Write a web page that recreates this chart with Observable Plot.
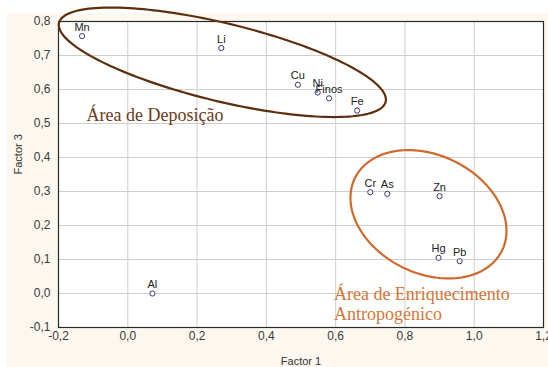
<!DOCTYPE html>
<html>
<head>
<meta charset="utf-8">
<script src="https://cdn.jsdelivr.net/npm/d3@7"></script>
<script src="https://cdn.jsdelivr.net/npm/@observablehq/plot@0.6"></script>
<style>
  html, body { margin: 0; padding: 0; background: #ffffff; }
  #wrap { position: relative; width: 548px; height: 367px; overflow: hidden; }
  #cream { position: absolute; left: 7px; top: 13px; right: 0; bottom: 0; background: #fcf8ef; }
  #chart { position: absolute; left: 0; top: 0; }
</style>
</head>
<body>
<div id="wrap"><div id="cream"></div><div id="chart"></div></div>
<script>
// Data
const elements = ["Mn", "Li", "Cu", "Ni", "Finos", "Fe", "Cr", "As", "Zn", "Hg", "Pb", "Al"];
const factor1  = [-0.132, 0.270, 0.491, 0.548, 0.581, 0.662, 0.700, 0.749, 0.900, 0.897, 0.958, 0.071];
const factor3  = [ 0.757, 0.722, 0.614, 0.591, 0.574, 0.538, 0.298, 0.293, 0.286, 0.105, 0.095, 0.000];
const xTicks = [-0.2, 0.0, 0.2, 0.4, 0.6, 0.8, 1.0, 1.2];
const yTicks = [-0.1, 0.0, 0.1, 0.2, 0.3, 0.4, 0.5, 0.6, 0.7, 0.8];
const groupNames = ["Área de Deposição", "Área de Enriquecimento", "Antropogénico"];

const points = elements.map((e, i) => ({name: e, x: factor1[i], y: factor3[i]}));

const W = 548, H = 367, mL = 58, mR = 5, mT = 21, mB = 40;
const xDom = [-0.2, 1.2], yDom = [-0.1, 0.8];
const kx = (xDom[1] - xDom[0]) / (W - mL - mR);
const ky = (yDom[1] - yDom[0]) / (H - mT - mB);

// Annotation ellipse outline (center in data units, semi-axes in px, tilt in degrees)
function ellipse(cx, cy, a, b, deg) {
  const phi = deg * Math.PI / 180, pts = [];
  for (let i = 0; i <= 180; i++) {
    const t = i / 180 * 2 * Math.PI;
    const px = a * Math.cos(t) * Math.cos(phi) - b * Math.sin(t) * Math.sin(phi);
    const py = a * Math.cos(t) * Math.sin(phi) + b * Math.sin(t) * Math.cos(phi);
    pts.push({x: cx + px * kx, y: cy - py * ky});
  }
  return pts;
}
const depo = ellipse(0.273, 0.680, 168, 39, 13.6);
const enri = ellipse(0.868, 0.233, 82, 59, 26.3);

const fmt = d => d.toFixed(1).replace(".", ",");
const brown = "#5e2f0e", orange = "#d0692c";

const plot = Plot.plot({
  width: W, height: H,
  marginLeft: mL, marginRight: mR, marginTop: mT, marginBottom: mB,
  style: {background: "transparent", fontFamily: "'Liberation Sans', Arial, sans-serif", fontSize: "12px", overflow: "visible"},
  x: {domain: xDom},
  y: {domain: yDom},
  marks: [
    Plot.frame({fill: "white", stroke: null}),
    Plot.gridX(xTicks, {stroke: "#cfcfcf", strokeOpacity: 1}),
    Plot.gridY(yTicks, {stroke: "#cfcfcf", strokeOpacity: 1}),
    Plot.frame({stroke: "#2a2a2a", strokeWidth: 1.2}),
    Plot.axisX(xTicks, {tickFormat: fmt, tickSize: 0, tickPadding: 4, label: null, fill: "#3a3a3a"}),
    Plot.axisY(yTicks, {tickFormat: fmt, tickSize: 0, tickPadding: 8, label: null, fill: "#3a3a3a"}),
    Plot.text(["Factor 1"], {frameAnchor: "bottom", dy: 34, fontSize: 11, fill: "#333", lineAnchor: "middle"}),
    Plot.text(["Factor 3"], {frameAnchor: "left", dx: -40, rotate: -90, fontSize: 11, fill: "#333"}),
    Plot.line(depo, {x: "x", y: "y", stroke: brown, strokeWidth: 2.2, clip: false}),
    Plot.line(enri, {x: "x", y: "y", stroke: orange, strokeWidth: 2.2, clip: false}),
    Plot.dot(points, {x: "x", y: "y", r: 2.6, stroke: "#3a3a78", strokeWidth: 1, fill: "white"}),
    Plot.text(points, {x: "x", y: "y", text: "name", dy: -9, fontSize: 11, fill: "#222"}),
    Plot.text([groupNames[0]], {x: () => -0.119, y: () => 0.525, textAnchor: "start", fontFamily: "'Liberation Serif', 'Times New Roman', serif", fontSize: 18, fill: "#6b3a18"}),
    Plot.text([groupNames[1]], {x: () => 0.595, y: () => -0.003, textAnchor: "start", fontFamily: "'Liberation Serif', 'Times New Roman', serif", fontSize: 18, fill: "#d4773a"}),
    Plot.text([groupNames[2]], {x: () => 0.595, y: () => -0.0615, textAnchor: "start", fontFamily: "'Liberation Serif', 'Times New Roman', serif", fontSize: 18, fill: "#d4773a"})
  ]
});
document.getElementById("chart").appendChild(plot);
</script>
</body>
</html>
